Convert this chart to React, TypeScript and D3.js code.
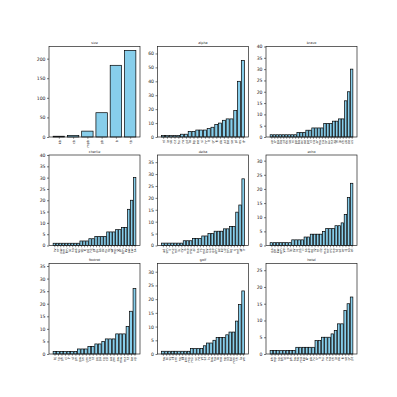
import React, { useEffect, useRef } from 'react';
import * as d3 from 'd3';

// panel titles, row by row
const titles = ['size', 'alpha', 'bravo', 'charlie', 'delta', 'echo', 'foxtrot', 'golf', 'hotel'];

// bar values (sorted ascending inside each panel)
const values1 = [2, 4, 15, 62, 183, 221];
const values2 = [1, 1, 1, 1, 1, 2, 2, 4, 4, 5, 5, 5, 6, 7, 9, 10, 12, 13, 13, 19, 40, 55];
const values3 = [1, 1, 1, 1, 1, 1, 1, 1, 1, 2, 2, 2, 3, 3, 4, 4, 4, 4, 6, 6, 6, 7, 7, 8, 8, 16, 20, 30];
const values4 = [1, 1, 1, 1, 1, 1, 1, 1, 1, 2, 2, 2, 3, 3, 4, 4, 4, 4, 6, 6, 6, 7, 7, 8, 8, 16, 20, 30];
const values5 = [1, 1, 1, 1, 1, 1, 1, 2, 2, 2, 3, 3, 3, 4, 4, 5, 5, 6, 6, 6, 7, 7, 8, 8, 14, 17, 28];
const values6 = [1, 1, 1, 1, 1, 1, 1, 2, 2, 2, 2, 3, 3, 4, 4, 4, 4, 5, 6, 6, 6, 7, 7, 8, 11, 17, 22];
const values7 = [1, 1, 1, 1, 1, 1, 1, 2, 2, 2, 3, 3, 4, 4, 5, 6, 6, 6, 8, 8, 8, 11, 17, 26];
const values8 = [1, 1, 1, 1, 1, 1, 1, 1, 1, 2, 2, 2, 2, 3, 4, 4, 5, 6, 6, 6, 7, 8, 8, 12, 18, 23];
const values9 = [1, 1, 1, 1, 1, 1, 1, 1, 2, 2, 2, 2, 2, 2, 4, 4, 5, 5, 5, 6, 7, 9, 9, 13, 15, 17];

// x tick labels
const labels1 = ['kb', 'cb', 'mpb', 'gb', 'b', 'tb'];
const labels2 = 'nl ie sk cz hu ro pt lv bg ee si hr lt gr fi dk at be se pl es fr'.split(' ');
const labels3 = 'uy cr pa do gt hn sv ni py bo ec ve pe cl co ar mx ca br au nz za in jp cn uk de us'.split(' ');
const labels4 = 'tv nr pw mh fm ki to ws vu sb fj pg nc pf gu as ck nu tk wf mp vi pr bm ky aw cw sx'.split(' ');
const labels5 = 'ad sm li mc mt lu cy is me mk al ba rs md by ua ge am az kz uz tm kg tj mn af ir'.split(' ');
const labels6 = 'qa bh kw om ye jo lb sy iq ps il sa ae eg ly tn dz ma mr ml ne td sd er dj so et'.split(' ');
const labels7 = 'bj tg gh ci lr sl gn gw sn gm cv st gq ga cg cd ao zm zw mw mz tz ke ug'.split(' ');
const labels8 = 'rw bi ss cf cm ng bf km mg mu sc re yt sz ls bw na lk mv np bt bd mm th la vn'.split(' ');
const labels9 = 'kh my sg bn id tl ph tw hk mo kp kr pk ru tr it hu ro no ch ie dk fi se gr pt'.split(' ');

const allValues = [values1, values2, values3, values4, values5, values6, values7, values8, values9];
const allLabels = [labels1, labels2, labels3, labels4, labels5, labels6, labels7, labels8, labels9];
const yTickCounts = [5, 8, 8, 8, 8, 8, 8, 8, 8];

const colLeft = [49, 157.5, 266];
const rowTop = [46.5, 155, 263.5];
const pw = 91;
const ph = 90.5;
const FONT = 'DejaVu Sans, sans-serif';

export default function App() {
  const ref = useRef<SVGSVGElement>(null);

  useEffect(() => {
    const svg = d3.select(ref.current);
    svg.selectAll('*').remove();
    svg.append('rect').attr('width', 397).attr('height', 397).attr('fill', '#fff');

    allValues.forEach((vals, i) => {
      const labels = allLabels[i];
      const left = colLeft[i % 3];
      const top = rowTop[Math.floor(i / 3)];
      const n = vals.length;
      const pad = 0.05 * (n - 0.2);

      const x = d3.scaleLinear().domain([-0.4 - pad, n - 0.6 + pad]).range([left, left + pw]);
      const y = d3
        .scaleLinear()
        .domain([0, (d3.max(vals) as number) + 10])
        .range([top + ph, top]);

      const g = svg.append('g');

      // bars
      g.selectAll('rect.bar')
        .data(vals)
        .enter()
        .append('rect')
        .attr('class', 'bar')
        .attr('x', (d, j) => x(j - 0.4))
        .attr('width', (d, j) => x(j + 0.4) - x(j - 0.4))
        .attr('y', d => y(d))
        .attr('height', d => y(0) - y(d))
        .attr('fill', '#87ceeb')
        .attr('stroke', '#000')
        .attr('stroke-width', 0.7);

      // frame
      g.append('rect')
        .attr('x', left)
        .attr('y', top)
        .attr('width', pw)
        .attr('height', ph)
        .attr('fill', 'none')
        .attr('stroke', '#222')
        .attr('stroke-width', 0.7);

      // y axis
      const yAxis = g
        .append('g')
        .attr('transform', `translate(${left},0)`)
        .call(d3.axisLeft(y).ticks(yTickCounts[i]).tickSize(2).tickPadding(1.5));
      yAxis.select('.domain').remove();
      yAxis.selectAll('line').attr('stroke', '#222').attr('stroke-width', 0.6);
      yAxis.selectAll('text').style('font-family', FONT).style('font-size', '4.6px').attr('fill', '#222');

      // x axis with rotated labels
      const xAxis = g
        .append('g')
        .attr('transform', `translate(0,${top + ph})`)
        .call(
          d3
            .axisBottom(x)
            .tickValues(d3.range(n))
            .tickFormat(j => labels[j as number])
            .tickSize(1.8)
        );
      xAxis.select('.domain').remove();
      xAxis.selectAll('line').attr('stroke', '#222').attr('stroke-width', 0.5);
      xAxis
        .selectAll('text')
        .style('font-family', FONT)
        .style('font-size', '3.4px')
        .attr('fill', '#222')
        .attr('y', 0)
        .attr('x', -3)
        .attr('dy', '0.35em')
        .attr('transform', 'rotate(-90)')
        .style('text-anchor', 'end');

      // title
      g.append('text')
        .attr('x', left + pw / 2)
        .attr('y', top - 2.5)
        .attr('text-anchor', 'middle')
        .style('font-family', FONT)
        .style('font-size', '3.4px')
        .attr('fill', '#222')
        .text(titles[i]);
    });
  }, []);

  return (
    <svg
      ref={ref}
      width={397}
      height={397}
      style={{ position: 'absolute', left: 0, top: 0 }}
    />
  );
}
